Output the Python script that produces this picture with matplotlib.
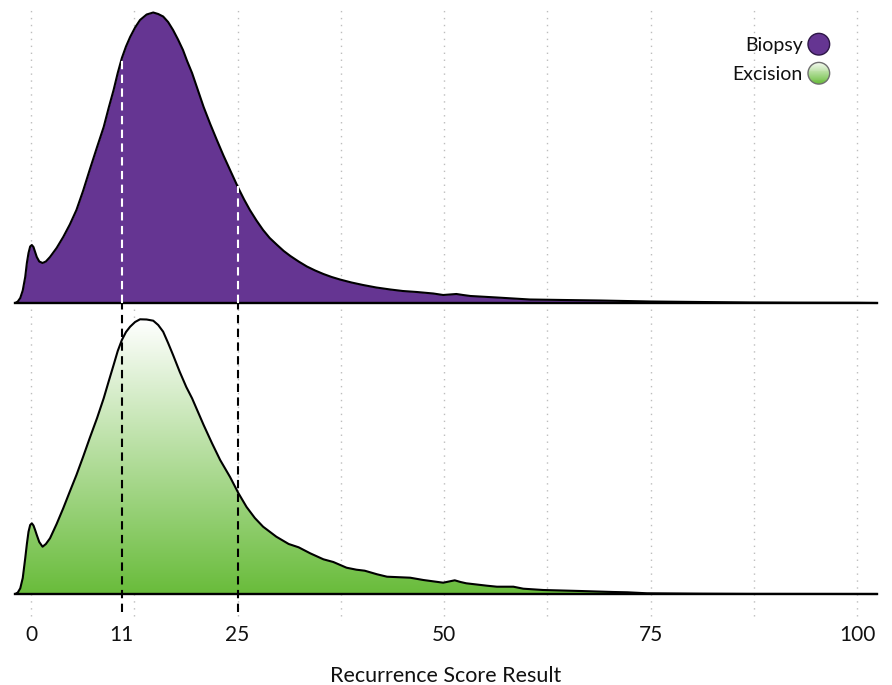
import numpy as np
import matplotlib
matplotlib.use("Agg")
import matplotlib.pyplot as plt
from matplotlib.colors import LinearSegmentedColormap, to_rgb
from matplotlib.lines import Line2D
from matplotlib.legend_handler import HandlerBase
from matplotlib.patches import Circle, Rectangle, Polygon

plt.rcParams['font.family'] = ['Lato', 'DejaVu Sans']

# ---------------- data ----------------
series_names = ["Biopsy", "Excision"]
tick_values = [0, 11, 25, 50, 75, 100]
tick_labels = ["0", "11", "25", "50", "75", "100"]
cutoffs = [11, 25]
x_label = "Recurrence Score Result"

biopsy_x = [-1.9, -1.6, -1.3, -1.0, -0.7, -0.5, -0.3, -0.1, 0.1, 0.3, 0.5, 0.7,
            1.0, 1.4, 1.8, 2.3, 3.1, 3.9, 4.7, 5.5, 6.3, 7.1, 8.0, 8.8, 9.4,
            10.0, 10.5, 11.0, 11.5, 12.0, 12.6, 13.2, 14.0, 14.8, 15.4, 16.0,
            16.6, 17.2, 17.8, 18.4, 18.9, 19.5, 20.2, 20.9, 21.7, 22.5, 23.3,
            24.1, 25.1, 25.8, 26.5, 27.3, 28.1, 28.9, 29.8, 30.6, 31.4, 32.4,
            33.4, 34.4, 35.4, 36.4, 37.4, 38.8, 40.2, 41.8, 43.5, 45.0, 46.7,
            48.7, 49.9, 50.7, 51.5, 52.3, 53.2, 56.4, 60.4, 64.5, 68.9, 75.0,
            81.0, 87.0, 93.0, 100.0, 102.4]
biopsy_density = [0.0, 0.0003, 0.0010, 0.0025, 0.0052, 0.0080, 0.0100, 0.0113,
                  0.0116, 0.0112, 0.0102, 0.0092, 0.0083, 0.0080, 0.0083, 0.0092,
                  0.0110, 0.0132, 0.0157, 0.0186, 0.0224, 0.0266, 0.0312, 0.0352,
                  0.0390, 0.0426, 0.0460, 0.0490, 0.0513, 0.0532, 0.0551, 0.0566,
                  0.0577, 0.0581, 0.0578, 0.0573, 0.0562, 0.0546, 0.0527, 0.0506,
                  0.0484, 0.0460, 0.0426, 0.0392, 0.0358, 0.0326, 0.0295, 0.0266,
                  0.0230, 0.0207, 0.0186, 0.0165, 0.0146, 0.0130, 0.0116, 0.0104,
                  0.0094, 0.0083, 0.0073, 0.0065, 0.0058, 0.0052, 0.0047, 0.0041,
                  0.0036, 0.0031, 0.0027, 0.0024, 0.0022, 0.0019, 0.0016, 0.0017,
                  0.0018, 0.0016, 0.0014, 0.0011, 0.0007, 0.0006, 0.0005, 0.0003,
                  0.0002, 0.0001, 0.00006, 0.00004, 0.0]

excision_x = [-1.9, -1.6, -1.3, -1.0, -0.7, -0.5, -0.3, -0.1, 0.1, 0.3, 0.5,
              0.7, 1.0, 1.4, 1.8, 2.3, 3.1, 3.9, 4.7, 5.5, 6.3, 7.1, 8.0, 8.8,
              9.4, 10.0, 10.5, 11.0, 11.5, 12.0, 12.6, 13.2, 14.0, 14.8, 15.4,
              16.0, 16.6, 17.2, 18.0, 18.8, 19.5, 20.9, 21.9, 22.9, 24.1, 25.1,
              26.1, 27.1, 28.1, 29.7, 31.2, 32.4, 33.8, 35.4, 36.6, 38.2, 39.4,
              40.4, 41.9, 43.1, 45.9, 47.5, 49.9, 50.6, 51.3, 52.0, 52.7, 55.2,
              56.4, 58.4, 59.6, 62.0, 66.5, 70.5, 72.2, 74.6, 81.0, 87.0, 102.4]
excision_density = [0.0, 0.0003, 0.00114, 0.0032, 0.00714, 0.0100, 0.01246,
                    0.0138, 0.01414, 0.0137, 0.0128, 0.0118, 0.0104, 0.00946,
                    0.0100, 0.01114, 0.0140, 0.01714, 0.0205, 0.0238, 0.0274,
                    0.03114, 0.0352, 0.03914, 0.0425, 0.0458, 0.0486, 0.0508,
                    0.0524, 0.05346, 0.0544, 0.05494, 0.0549, 0.05466, 0.0538,
                    0.05246, 0.0502, 0.0478, 0.04446, 0.0414, 0.03914, 0.0338,
                    0.0302, 0.0268, 0.0234, 0.0202, 0.0174, 0.0152, 0.01346,
                    0.01146, 0.0100, 0.00934, 0.00814, 0.00694, 0.0064, 0.00526,
                    0.00486, 0.00466, 0.00394, 0.00346, 0.00326, 0.0028, 0.00226,
                    0.0025, 0.00274, 0.0024, 0.00214, 0.00166, 0.00146, 0.00146,
                    0.00106, 0.0008, 0.0006, 0.0004, 0.00034, 0.00014, 0.00006,
                    0.00002, 0.0]

# ---------------- style / layout ----------------
PURPLE = "#653592"
PURPLE_EDGE = "#2e1747"
GREEN = "#69bc3b"
PX = 0.0002                 # density units per pixel
RIDGE_OFFSET = 291 * PX     # baseline of the upper ridge
W, H = 892, 685
X0_PX, UNIT_PX = 31.0, 8.26

fig = plt.figure(figsize=(W / 100, H / 100), dpi=100)
AX_BOTTOM_PX = 622
ax = fig.add_axes([0, 1 - AX_BOTTOM_PX / H, 1, AX_BOTTOM_PX / H])

bx = np.asarray(biopsy_x); by = np.asarray(biopsy_density)
ex = np.asarray(excision_x); ey = np.asarray(excision_density)

# dotted vertical grid
grid_x = np.arange(0, 100.01, 12.5)
ax.vlines(grid_x, -22 * PX, (594 - 10) * PX, colors="#bdbdbd",
          linestyles=(0, (1, 4)), linewidth=1.0, zorder=0)

# upper ridge (Biopsy)
ax.fill_between(bx, RIDGE_OFFSET, RIDGE_OFFSET + by, color=PURPLE, lw=0, zorder=2)
ax.plot(bx, RIDGE_OFFSET + by, color="black", lw=1.5, zorder=3,
        solid_joinstyle="round", solid_capstyle="round")
ax.plot([bx[0], bx[-1]], [RIDGE_OFFSET, RIDGE_OFFSET], color="black", lw=1.7, zorder=4)

# lower ridge (Excision) with vertical gradient
verts = np.column_stack([np.r_[ex, ex[::-1]], np.r_[ey, np.zeros_like(ey)]])
clip_poly = Polygon(verts, closed=True, facecolor="none", edgecolor="none",
                    transform=ax.transData)
ax.add_patch(clip_poly)
cmap = LinearSegmentedColormap.from_list("exc", [GREEN, "#ffffff"])
grad = np.linspace(0, 1, 256).reshape(-1, 1)
im = ax.imshow(grad, extent=[ex[0], ex[-1], 0, ey.max()], origin="lower",
               aspect="auto", cmap=cmap, zorder=2, interpolation="bilinear")
im.set_clip_path(clip_poly)
ax.plot(ex, ey, color="black", lw=1.5, zorder=3, solid_joinstyle="round",
        solid_capstyle="round")
ax.plot([ex[0], ex[-1]], [0, 0], color="black", lw=1.7, zorder=4)

# cutoff dashed lines
dash = (0, (4, 2.6))
for c in cutoffs:
    h = np.interp(c, bx, by)
    ax.plot([c, c], [RIDGE_OFFSET, RIDGE_OFFSET + h], color="white", ls=dash,
            lw=1.5, zorder=5)
    ax.plot([c, c], [-18 * PX, RIDGE_OFFSET], color="black", ls=dash,
            lw=1.5, zorder=5)

ax.set_xlim(-X0_PX / UNIT_PX, (W - X0_PX) / UNIT_PX)
ax.set_ylim(-(AX_BOTTOM_PX - 594) * PX, 594 * PX)
ax.set_xticks(tick_values, tick_labels)
ax.set_yticks([])
ax.tick_params(axis="x", length=0, pad=2, labelsize=15, labelcolor="#111111")
for s in ax.spines.values():
    s.set_visible(False)
ax.set_xlabel(x_label, fontsize=15.5, labelpad=15, color="#111111")


# legend with a gradient circle for Excision
class GradientCircleHandler(HandlerBase):
    def __init__(self, top_color, bottom_color, edge_color, radius, **kw):
        super().__init__(**kw)
        self.top = np.array(to_rgb(top_color))
        self.bottom = np.array(to_rgb(bottom_color))
        self.edge = edge_color
        self.r = radius

    def create_artists(self, legend, orig_handle, xdescent, ydescent, width,
                       height, fontsize, trans):
        cx = width / 2 - xdescent
        cy = height / 2 - ydescent
        r = self.r
        clip = Circle((cx, cy), r, facecolor="none", edgecolor="none",
                      transform=trans)
        arts = [clip]
        n = 24
        for i in range(n):
            t = i / (n - 1)
            col = self.bottom * (1 - t) + self.top * t
            y0 = cy - r + 2 * r * i / n
            rect = Rectangle((cx - r, y0), 2 * r, 2 * r / n * 1.05,
                             facecolor=col, edgecolor="none", lw=0,
                             transform=trans)
            rect.set_clip_path(clip)
            arts.append(rect)
        edge = Circle((cx, cy), r, facecolor="none", edgecolor=self.edge,
                      lw=1.0, transform=trans)
        arts.append(edge)
        return arts


class SolidCircleHandler(HandlerBase):
    def __init__(self, face, edge, radius, **kw):
        super().__init__(**kw)
        self.face, self.edge, self.r = face, edge, radius

    def create_artists(self, legend, orig_handle, xdescent, ydescent, width,
                       height, fontsize, trans):
        cx = width / 2 - xdescent
        cy = height / 2 - ydescent
        return [Circle((cx, cy), self.r, facecolor=self.face,
                       edgecolor=self.edge, lw=1.0, transform=trans)]


h_bio = Line2D([], [], label=series_names[0])
h_exc = Line2D([], [], label=series_names[1])
leg = ax.legend(handles=[h_bio, h_exc], loc="upper right",
                bbox_to_anchor=(830 / W, 1 - 37 / H),
                bbox_transform=fig.transFigure, frameon=False,
                markerfirst=False, fontsize=14, handlelength=1.15,
                handletextpad=0.25, labelspacing=0.62, borderpad=0,
                borderaxespad=0,
                handler_map={h_bio: SolidCircleHandler(PURPLE, PURPLE_EDGE, 7.8),
                             h_exc: GradientCircleHandler("#f4faf0", GREEN,
                                                          "#6f6f6f", 7.8)})
for t in leg.get_texts():
    t.set_color("#111111")

fig.savefig("out.png", dpi=100)
